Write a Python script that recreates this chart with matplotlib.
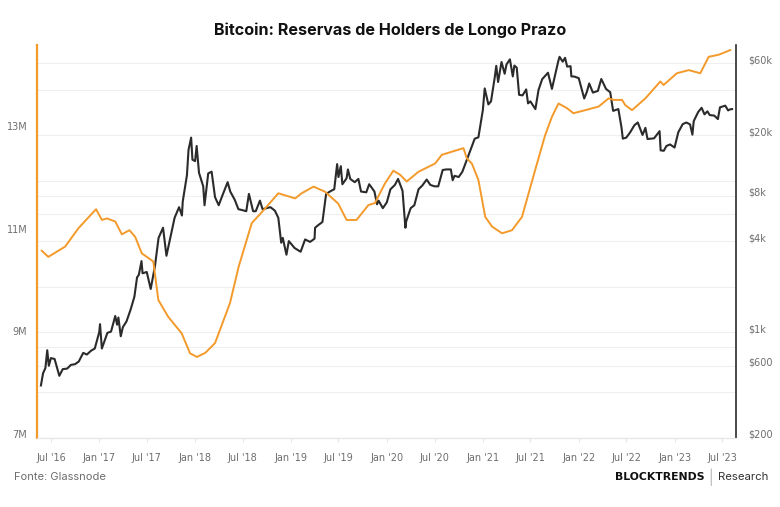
import numpy as np
import pandas as pd
import matplotlib
matplotlib.use("Agg")
import matplotlib.pyplot as plt
import matplotlib.dates as mdates
from matplotlib.ticker import FixedLocator, NullFormatter

# long term holder supply (millions of BTC)
lth_dates = ["2016-05-27", "2016-06-21", "2016-08-24", "2016-10-14", "2016-12-20",
             "2017-01-11", "2017-01-30", "2017-03-03", "2017-03-28", "2017-04-26",
             "2017-05-18", "2017-06-12", "2017-07-26", "2017-08-14", "2017-09-21",
             "2017-11-11", "2017-12-13", "2018-01-08", "2018-02-09", "2018-03-18",
             "2018-05-14", "2018-06-16", "2018-08-05", "2018-09-19", "2018-11-14",
             "2019-01-17", "2019-02-11", "2019-03-28", "2019-05-11", "2019-06-30",
             "2019-08-01", "2019-09-08", "2019-10-23", "2019-11-17", "2019-12-25",
             "2020-01-26", "2020-02-21", "2020-03-17", "2020-05-01", "2020-07-03",
             "2020-07-29", "2020-10-19", "2020-11-01", "2020-11-20", "2020-12-15",
             "2021-01-10", "2021-02-05", "2021-03-15", "2021-04-22", "2021-05-30",
             "2021-07-19", "2021-08-26", "2021-09-21", "2021-10-16", "2021-11-17",
             "2021-12-12", "2022-01-26", "2022-03-18", "2022-04-25", "2022-05-14",
             "2022-06-15", "2022-06-27", "2022-07-23", "2022-09-12", "2022-11-08",
             "2022-11-20", "2023-01-10", "2023-02-24", "2023-04-09", "2023-05-11",
             "2023-06-18", "2023-08-01"]
lth_supply = [10.65, 10.53, 10.73, 11.09, 11.46,
              11.25, 11.28, 11.22, 10.97, 11.05,
              10.92, 10.60, 10.44, 9.69, 9.36,
              9.04, 8.65, 8.58, 8.66, 8.85,
              9.63, 10.34, 11.19, 11.44, 11.77,
              11.67, 11.77, 11.90, 11.80, 11.57,
              11.25, 11.25, 11.54, 11.58, 11.96,
              12.21, 12.13, 12.00, 12.19, 12.35,
              12.52, 12.65, 12.45, 12.35, 12.03,
              11.31, 11.12, 10.99, 11.05, 11.31,
              12.22, 12.90, 13.26, 13.52, 13.43,
              13.33, 13.39, 13.46, 13.62, 13.59,
              13.59, 13.49, 13.39, 13.62, 13.95,
              13.88, 14.11, 14.17, 14.11, 14.43,
              14.47, 14.56]

# bitcoin price (USD)
price_dates = ["2016-05-24", "2016-06-01", "2016-06-10", "2016-06-17", "2016-06-23",
               "2016-07-01", "2016-07-15", "2016-08-02", "2016-08-15", "2016-09-01",
               "2016-09-15", "2016-10-01", "2016-10-15", "2016-11-01", "2016-11-15",
               "2016-12-01", "2016-12-15", "2017-01-01", "2017-01-04", "2017-01-11",
               "2017-02-01", "2017-02-15", "2017-03-03", "2017-03-10", "2017-03-15",
               "2017-03-24", "2017-04-01", "2017-04-15", "2017-05-01", "2017-05-15",
               "2017-05-25", "2017-06-01", "2017-06-11", "2017-06-15", "2017-07-01",
               "2017-07-16", "2017-08-01", "2017-08-15", "2017-09-01", "2017-09-14",
               "2017-10-01", "2017-10-15", "2017-11-01", "2017-11-12", "2017-11-15",
               "2017-12-01", "2017-12-07", "2017-12-17", "2017-12-22", "2018-01-01",
               "2018-01-07", "2018-01-16", "2018-02-01", "2018-02-06", "2018-02-20",
               "2018-03-05", "2018-03-18", "2018-04-01", "2018-04-15", "2018-05-05",
               "2018-05-15", "2018-06-01", "2018-06-15", "2018-07-01", "2018-07-15",
               "2018-07-25", "2018-08-10", "2018-08-20", "2018-09-05", "2018-09-15",
               "2018-10-01", "2018-10-15", "2018-11-01", "2018-11-14", "2018-11-25",
               "2018-12-01", "2018-12-15", "2018-12-24", "2019-01-01", "2019-01-15",
               "2019-02-07", "2019-02-24", "2019-03-15", "2019-04-01", "2019-04-03",
               "2019-04-15", "2019-05-01", "2019-05-15", "2019-06-01", "2019-06-15",
               "2019-06-26", "2019-07-01", "2019-07-10", "2019-07-16", "2019-08-01",
               "2019-08-06", "2019-08-15", "2019-09-01", "2019-09-15", "2019-09-25",
               "2019-10-15", "2019-10-26", "2019-11-01", "2019-11-15", "2019-11-25",
               "2019-12-01", "2019-12-17", "2020-01-01", "2020-01-15", "2020-02-01",
               "2020-02-13", "2020-03-01", "2020-03-12", "2020-03-15", "2020-04-01",
               "2020-04-15", "2020-05-01", "2020-05-15", "2020-06-01", "2020-06-15",
               "2020-07-01", "2020-07-15", "2020-08-01", "2020-08-15", "2020-09-01",
               "2020-09-08", "2020-09-15", "2020-10-01", "2020-10-15", "2020-11-01",
               "2020-11-15", "2020-12-01", "2020-12-15", "2021-01-01", "2021-01-08",
               "2021-01-22", "2021-02-01", "2021-02-15", "2021-02-21", "2021-02-28",
               "2021-03-13", "2021-03-25", "2021-04-01", "2021-04-14", "2021-04-25",
               "2021-05-01", "2021-05-10", "2021-05-19", "2021-06-01", "2021-06-15",
               "2021-06-22", "2021-07-01", "2021-07-20", "2021-08-01", "2021-08-15",
               "2021-09-06", "2021-09-21", "2021-10-01", "2021-10-15", "2021-10-20",
               "2021-11-01", "2021-11-10", "2021-11-18", "2021-12-01", "2021-12-04",
               "2021-12-15", "2022-01-01", "2022-01-10", "2022-01-22", "2022-02-01",
               "2022-02-10", "2022-02-24", "2022-03-15", "2022-03-28", "2022-04-15",
               "2022-05-01", "2022-05-12", "2022-06-01", "2022-06-13", "2022-06-18",
               "2022-07-01", "2022-07-15", "2022-08-01", "2022-08-14", "2022-09-01",
               "2022-09-12", "2022-09-20", "2022-10-15", "2022-11-05", "2022-11-09",
               "2022-11-21", "2022-12-01", "2022-12-15", "2023-01-01", "2023-01-15",
               "2023-02-01", "2023-02-15", "2023-03-01", "2023-03-10", "2023-03-15",
               "2023-04-01", "2023-04-14", "2023-04-25", "2023-05-06", "2023-05-15",
               "2023-06-01", "2023-06-15", "2023-06-23", "2023-07-13", "2023-07-24",
               "2023-08-01", "2023-08-08"]
price_usd = [445, 535, 580, 760, 600,
             675, 665, 515, 570, 575,
             608, 615, 640, 730, 712,
             755, 780, 1000, 1130, 780,
             990, 1010, 1280, 1120, 1250,
             940, 1080, 1180, 1420, 1720,
             2300, 2400, 2950, 2450, 2500,
             1930, 2720, 4200, 4900, 3200,
             4400, 5700, 6700, 5900, 7300,
             10900, 16000, 19300, 13800, 13500,
             17000, 11300, 9200, 6900, 11200,
             11500, 7800, 6900, 8000, 9800,
             8500, 7500, 6500, 6400, 6300,
             8200, 6300, 6300, 7400, 6500,
             6600, 6700, 6350, 5700, 3900,
             4200, 3250, 4000, 3850, 3600,
             3400, 4100, 3950, 4150, 4900,
             5100, 5350, 8200, 8550, 8800,
             12900, 10600, 12500, 9500, 10400,
             11900, 10300, 9800, 10300, 8500,
             8400, 9500, 9200, 8500, 7000,
             7400, 6600, 7200, 8800, 9400,
             10300, 8600, 4900, 5400, 6600,
             6900, 8800, 9300, 10200, 9400,
             9200, 9200, 11800, 11900, 11900,
             10100, 10800, 10600, 11500, 13800,
             16000, 19000, 19400, 29400, 40800,
             32000, 33500, 48000, 57500, 45000,
             61000, 51000, 58800, 63500, 49000,
             57800, 56000, 37000, 36700, 40200,
             32500, 33500, 29800, 39900, 47000,
             51800, 40500, 48200, 61600, 66000,
             61300, 65000, 56900, 57200, 49000,
             48900, 47700, 41800, 35000, 38700,
             44000, 38300, 39300, 47100, 40500,
             38500, 29000, 29800, 22500, 19000,
             19300, 20800, 23300, 24300, 20100,
             22400, 18900, 19100, 21300, 15900,
             15800, 17000, 17400, 16600, 20900,
             23700, 24300, 23600, 20200, 24800,
             28500, 30400, 27500, 28800, 27200,
             27000, 25600, 30600, 31400, 29200,
             29700, 29800]

left_ticks = [7, 9, 11, 13]
left_labels = ["7M", "9M", "11M", "13M"]
right_ticks = [200, 600, 1000, 4000, 8000, 20000, 60000]
right_labels = ["$200", "$600", "$1k", "$4k", "$8k", "$20k", "$60k"]
right_minor = [400, 800, 2000, 6000, 10000, 40000]

orange = "#F39A2B"
dark = "#2B2B2B"
grey = "#6E6E6E"

fig = plt.figure(figsize=(7.8, 5.07), dpi=100)
ax = fig.add_axes([37 / 780, 1 - 438 / 507, (736 - 37) / 780, (438 - 45) / 507])
ax2 = ax.twinx()

ax2.plot(pd.to_datetime(price_dates), price_usd, color=dark, lw=1.5)
ax.plot(pd.to_datetime(lth_dates), lth_supply, color=orange, lw=1.4)

ax.set_zorder(ax2.get_zorder() + 1)
ax.patch.set_visible(False)

ax2.set_yscale("log")
ax2.set_ylim(200, 79000)
ax.set_ylim(7, 14.66)
ax.set_xlim(pd.Timestamp("2016-05-09"), pd.Timestamp("2023-08-23"))

ax2.yaxis.set_major_locator(FixedLocator(right_ticks))
ax2.set_yticklabels(right_labels)
ax2.yaxis.set_minor_locator(FixedLocator(right_minor))
ax2.yaxis.set_minor_formatter(NullFormatter())
ax2.grid(True, which="both", axis="y", color="#EFEFEF", lw=0.8)
ax2.tick_params(axis="y", which="both", length=0, pad=9, labelsize=7, labelcolor=grey)
for t in ax2.get_yticklabels():
    t.set_va("baseline")

ax.set_yticks(left_ticks)
ax.set_yticklabels(left_labels)
ax.tick_params(axis="y", length=0, pad=7, labelsize=7, labelcolor=grey)
for t in ax.get_yticklabels():
    t.set_va("baseline")

xt = pd.date_range("2016-07-01", "2023-07-01", freq="6MS")
ax.set_xticks(xt)
ax.set_xticklabels([d.strftime("%b '%y") for d in xt])
ax.tick_params(axis="x", length=3, color="#E6E6E6", pad=8, labelsize=7, labelcolor=grey)

for a in (ax, ax2):
    a.spines["top"].set_visible(False)
    a.spines["bottom"].set_color("#E6E6E6")
ax.spines["left"].set_color(orange)
ax.spines["left"].set_linewidth(1.6)
ax.spines["right"].set_visible(False)
ax2.spines["left"].set_visible(False)
ax2.spines["right"].set_color(dark)
ax2.spines["right"].set_linewidth(1.2)

fig.text(0.5, 1 - 30 / 507, "Bitcoin: Reservas de Holders de Longo Prazo",
         ha="center", va="center", fontsize=11.6, fontweight="bold",
         family="Inter", color="#111111")
fig.text(14 / 780, 1 - 477 / 507, "Fonte: Glassnode", ha="left", va="center",
         fontsize=8, family="Inter", color=grey)
fig.text(704 / 780, 1 - 477 / 507, "BLOCKTRENDS", ha="right", va="center",
         fontsize=7.8, fontweight="bold", family="DejaVu Sans", color="#111111")
fig.text(711 / 780, 1 - 477 / 507, "|", ha="center", va="center",
         fontsize=10, color="#BBBBBB", family="Inter")
fig.text(718 / 780, 1 - 477 / 507, "Research", ha="left", va="center",
         fontsize=8.2, family="Inter", color="#333333")

fig.savefig("out.png", dpi=100)
